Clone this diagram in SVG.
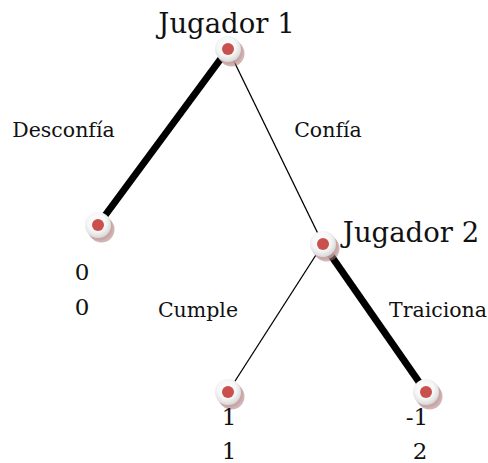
<svg xmlns="http://www.w3.org/2000/svg" width="488" height="463" viewBox="0 0 488 463">
<style>
text{font-family:"DejaVu Serif","Liberation Serif",serif;fill:#111;text-anchor:middle}
.p{font-size:27.5px}
.l{font-size:20.5px}
.n{font-size:23px}
.thin{stroke:#000;stroke-width:1.3;fill:none}
.thick{stroke:#000;stroke-width:7;fill:none}
.sh1{fill:#a87878;opacity:0.55}
.sh2{fill:#c9a3a3;opacity:0.8}
.disc{fill:url(#g)}
.dot{fill:#c9504d}
</style>
<defs>
<radialGradient id="g" cx="0.45" cy="0.4" r="0.6">
<stop offset="0" stop-color="#ffffff"/>
<stop offset="0.6" stop-color="#f6f6f6"/>
<stop offset="1" stop-color="#d8d8d8"/>
</radialGradient>
<g id="node">
<circle class="sh1" cx="3.5" cy="4.5" r="13"/>
<circle class="sh2" cx="1.8" cy="2.5" r="13"/>
<circle class="disc" cx="0" cy="0" r="13"/>
<circle class="dot" cx="0" cy="0" r="6"/>
</g>
</defs>
<g id="connectors">
<line class="thick" x1="228" y1="49" x2="98" y2="225"/>
<line class="thin" x1="228" y1="49" x2="323" y2="244"/>
<line class="thin" x1="323" y1="244" x2="228" y2="392"/>
<line class="thick" x1="323" y1="244" x2="426" y2="392"/>
</g>
<g id="n1"><use href="#node" x="228" y="49"/><text class="p" x="226.5" y="33">Jugador 1</text></g>
<g id="n2"><use href="#node" x="98" y="225"/><text class="n" x="82" y="280">0</text><text class="n" x="82" y="315">0</text></g>
<g id="n3"><use href="#node" x="323" y="244"/><text class="p" x="411" y="242">Jugador 2</text></g>
<g id="n4"><use href="#node" x="228" y="392"/><text class="n" x="229" y="425">1</text><text class="n" x="229" y="459">1</text></g>
<g id="n5"><use href="#node" x="426" y="392"/><text class="n" x="417" y="425">-1</text><text class="n" x="420" y="459">2</text></g>
<g id="labels">
<text class="l" x="63.5" y="137">Desconfía</text>
<text class="l" x="328" y="137">Confía</text>
<text class="l" x="198" y="317">Cumple</text>
<text class="l" x="438" y="317">Traiciona</text>
</g>
</svg>
